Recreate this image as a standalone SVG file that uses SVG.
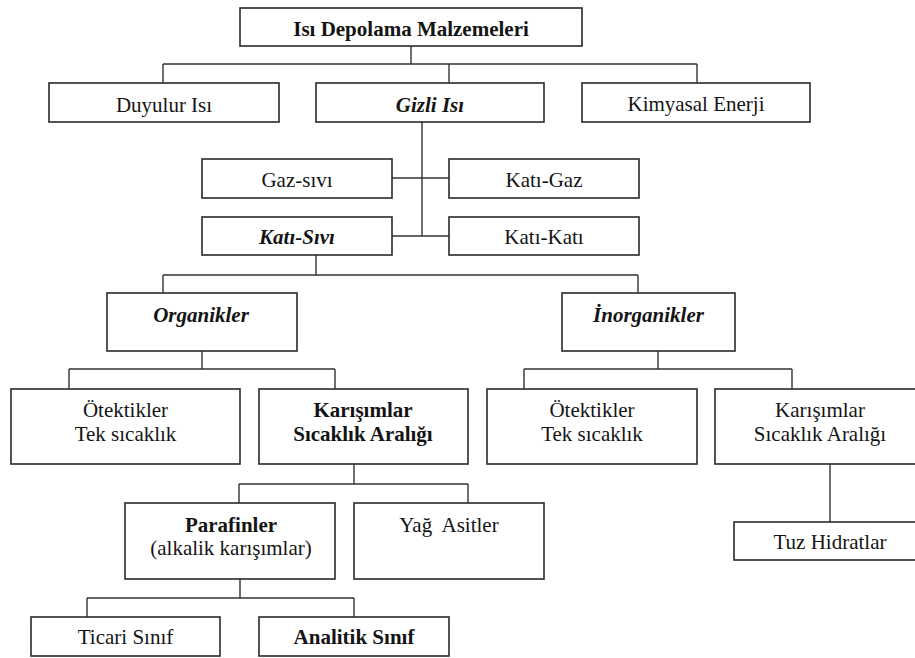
<svg xmlns="http://www.w3.org/2000/svg" width="915" height="658" viewBox="0 0 915 658">
<style>
rect{fill:#fff;stroke:#2a2a2a;stroke-width:1.6}
text{font-family:"Liberation Serif","Times New Roman",serif;font-size:21px;fill:#141414;text-anchor:middle}
.b{font-weight:bold}
.bi{font-weight:bold;font-style:italic}
#connectors path{fill:none;stroke:#333;stroke-width:1.4}
</style>
<rect x="0" y="0" width="915" height="658" style="fill:#fff;stroke:none"/>
<g id="connectors">
<path d="M411,46V64M163,64H697M163,64V83M449,64V83M697,64V83"/>
<path d="M422,122V236M392,178H449M392,236H449"/>
<path d="M316,255V275M163,275H638M163,275V293M638,275V293"/>
<path d="M202,351V369M69,369H335M69,369V389M335,369V389"/>
<path d="M658,351V369M524,369H792M524,369V389M792,369V389"/>
<path d="M354,464V484M239,484H468M239,484V503M468,484V503"/>
<path d="M240,579V598M87,598H354M87,598V617M354,598V617"/>
<path d="M830,464V522"/>
</g>
<g id="n-root"><rect x="240" y="8" width="342" height="38"/><text class="b" x="411" y="36">Isı Depolama Malzemeleri</text></g>
<g id="n-duyulur"><rect x="49" y="83" width="230" height="39"/><text x="164" y="112">Duyulur Isı</text></g>
<g id="n-gizli"><rect x="316" y="83" width="228" height="39"/><text class="bi" x="430" y="112">Gizli Isı</text></g>
<g id="n-kimyasal"><rect x="582" y="83" width="228" height="39"/><text x="696" y="111">Kimyasal Enerji</text></g>
<g id="n-gazsivi"><rect x="202" y="159" width="190" height="39"/><text x="297" y="187">Gaz-sıvı</text></g>
<g id="n-katigaz"><rect x="449" y="159" width="190" height="39"/><text x="544" y="187">Katı-Gaz</text></g>
<g id="n-katisivi"><rect x="202" y="217" width="190" height="38"/><text class="bi" x="297" y="244">Katı-Sıvı</text></g>
<g id="n-katikati"><rect x="449" y="217" width="190" height="38"/><text x="544" y="244">Katı-Katı</text></g>
<g id="n-organik"><rect x="107" y="293" width="190" height="58"/><text class="bi" x="201" y="322">Organikler</text></g>
<g id="n-inorganik"><rect x="562" y="293" width="173" height="58"/><text class="bi" x="648.5" y="322">İnorganikler</text></g>
<g id="n-otektik1"><rect x="11" y="389" width="229" height="75"/><text x="125.5" y="417">Ötektikler</text><text x="125.5" y="441">Tek sıcaklık</text></g>
<g id="n-karisim1"><rect x="259" y="389" width="209" height="75"/><text class="b" x="363" y="417">Karışımlar</text><text class="b" x="363" y="441">Sıcaklık Aralığı</text></g>
<g id="n-otektik2"><rect x="487" y="389" width="210" height="75"/><text x="592" y="417">Ötektikler</text><text x="592" y="441">Tek sıcaklık</text></g>
<g id="n-karisim2"><rect x="715" y="389" width="212" height="75"/><text x="820" y="417">Karışımlar</text><text x="820" y="441">Sıcaklık Aralığı</text></g>
<g id="n-parafin"><rect x="125" y="503" width="210" height="76"/><text class="b" x="231" y="532">Parafinler</text><text x="231" y="555">(alkalik karışımlar)</text></g>
<g id="n-yag"><rect x="354" y="503" width="190" height="76"/><text x="449" y="532" xml:space="preserve">Yağ  Asitler</text></g>
<g id="n-tuz"><rect x="734" y="522" width="192" height="38"/><text x="830" y="549">Tuz Hidratlar</text></g>
<g id="n-ticari"><rect x="31" y="617" width="189" height="39"/><text x="125.5" y="644">Ticari Sınıf</text></g>
<g id="n-analitik"><rect x="259" y="617" width="190" height="39"/><text class="b" x="354" y="644">Analitik Sınıf</text></g>
</svg>
